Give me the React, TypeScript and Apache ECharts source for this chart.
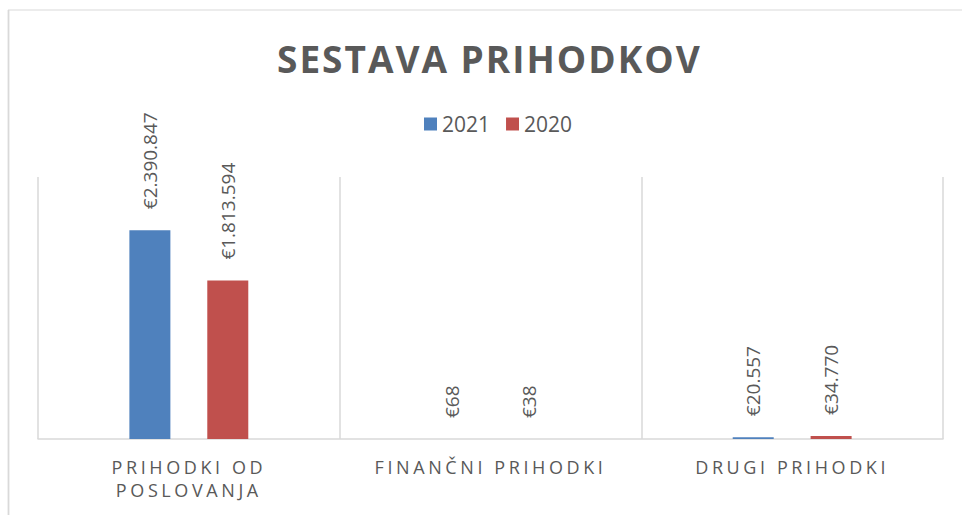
import React, { useEffect, useRef } from "react";
import * as echarts from "echarts";

const titleText = "SESTAVA PRIHODKOV";
const categories = ["PRIHODKI OD POSLOVANJA", "FINANČNI PRIHODKI", "DRUGI PRIHODKI"];
const seriesNames = ["2021", "2020"];
const values2021 = [2390847, 68, 20557];
const values2020 = [1813594, 38, 34770];
const yMax = 3000000;

const colors = ["#4F81BD", "#C0504D"];
const textColor = "#595959";
const gridColor = "#D9D9D9";

function fmtEuro(n: number): string {
  return "€" + String(Math.round(n)).replace(/\B(?=(\d{3})+(?!\d))/g, ".");
}

function wrap(text: string, maxChars: number): string {
  const words = text.split(" ");
  const lines: string[] = [];
  let cur = "";
  for (const w of words) {
    const next = cur ? cur + " " + w : w;
    if (next.length > maxChars && cur) {
      lines.push(cur);
      cur = w;
    } else {
      cur = next;
    }
  }
  if (cur) lines.push(cur);
  return lines.join("\n");
}

export default function App() {
  const ref = useRef<HTMLDivElement>(null);

  useEffect(() => {
    if (!ref.current) return;
    const chart = echarts.init(ref.current, undefined, { renderer: "svg" });
    const labelOpt = {
      show: true,
      position: "top" as const,
      distance: 21,
      rotate: 90,
      align: "left" as const,
      verticalAlign: "middle" as const,
      color: textColor,
      fontFamily: "Open Sans",
      fontSize: 19,
      formatter: (p: any) => fmtEuro(p.value),
    };
    chart.setOption({
      animation: false,
      backgroundColor: "#ffffff",
      title: {
        text: titleText,
        left: 272,
        top: 28,
        textStyle: {
          color: textColor,
          fontFamily: "Open Sans",
          fontWeight: "bold",
          fontSize: 37,
          lineHeight: 50,
        },
      },
      legend: {
        data: seriesNames,
        left: 419,
        top: 106,
        itemWidth: 13,
        itemHeight: 13,
        itemGap: 16,
        icon: "rect",
        textStyle: {
          color: textColor,
          fontFamily: "Open Sans",
          fontSize: 21,
          lineHeight: 26,
        },
      },
      grid: { left: 38, right: 19, top: 177, bottom: 76 },
      xAxis: {
        type: "category",
        data: categories,
        axisTick: { show: false },
        axisLine: { lineStyle: { color: gridColor, width: 1.5 } },
        splitLine: { show: true, lineStyle: { color: gridColor, width: 1.5 } },
        axisLabel: {
          interval: 0,
          margin: 16,
          color: textColor,
          fontFamily: "Open Sans",
          fontSize: 18,
          lineHeight: 23,
          formatter: (v: string) => wrap(v, 18),
        },
      },
      yAxis: {
        type: "value",
        min: 0,
        max: yMax,
        show: false,
        splitLine: { show: false },
      },
      graphic: [
        {
          type: "line",
          shape: { x1: 8, y1: 10, x2: 962, y2: 10 },
          style: { stroke: gridColor, lineWidth: 1.2 },
          silent: true,
        },
        {
          type: "line",
          shape: { x1: 8.5, y1: 10, x2: 8.5, y2: 515 },
          style: { stroke: gridColor, lineWidth: 1.8 },
          silent: true,
        },
      ],
      series: [
        {
          name: seriesNames[0],
          type: "bar",
          data: values2021,
          barWidth: 41,
          barGap: "90%",
          itemStyle: { color: colors[0] },
          label: labelOpt,
        },
        {
          name: seriesNames[1],
          type: "bar",
          data: values2020,
          barWidth: 41,
          barGap: "90%",
          itemStyle: { color: colors[1] },
          label: labelOpt,
        },
      ],
    });
    return () => chart.dispose();
  }, []);

  return (
    <>
      <style>{`
        .chart-host svg text[style*="37px"] { letter-spacing: 2px; }
        .chart-host svg text[style*="18px"] { letter-spacing: 3.6px; }
      `}</style>
      <div
        ref={ref}
        className="chart-host"
        style={{ position: "fixed", left: 0, top: 0, width: 962, height: 515 }}
      />
    </>
  );
}
